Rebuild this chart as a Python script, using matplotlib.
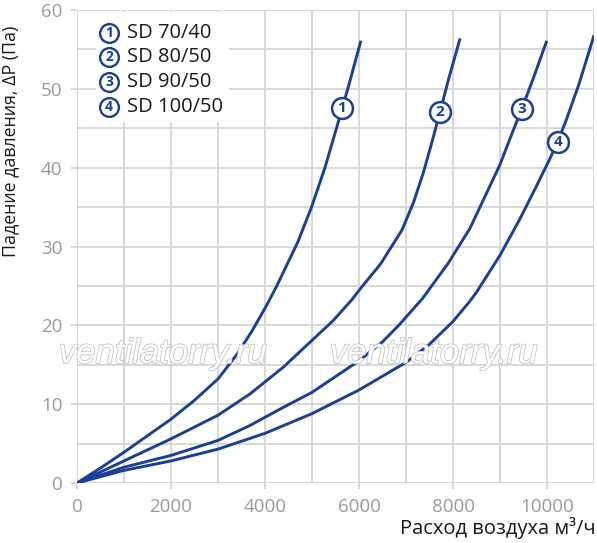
import numpy as np
import matplotlib
matplotlib.use("Agg")
import matplotlib.pyplot as plt
import matplotlib.patheffects as pe

plt.rcParams['font.family'] = ['Open Sans', 'DejaVu Sans']

# расход воздуха, м3/ч  и  падение давления, Па
flow_1 = [0, 500, 1000, 1500, 2000, 2500, 3000, 3400, 3725, 4040, 4250, 4700, 4990, 5280, 5520, 5770, 6040]
dp_1 = [0, 1.9, 3.9, 6.0, 8.1, 10.5, 13.2, 16.3, 19.3, 22.6, 25.0, 30.6, 35.0, 40.1, 45.0, 50.2, 56.1]

flow_2 = [0, 500, 1000, 2000, 3000, 3680, 4390, 5000, 5450, 5840, 6035, 6460, 6915, 7160, 7370, 7550, 7725, 7900, 8150]
dp_2 = [0, 1.4, 2.8, 5.6, 8.6, 11.3, 14.7, 18.1, 20.6, 23.2, 24.7, 27.8, 32.1, 35.6, 39.4, 43.2, 47.1, 51.1, 56.4]

flow_3 = [0, 500, 1000, 2000, 3000, 3680, 4390, 5000, 6000, 6500, 6860, 7350, 7900, 8360, 8700, 9000, 9200, 9465, 9700, 9995]
dp_3 = [0, 1.0, 2.0, 3.5, 5.4, 7.3, 9.6, 11.5, 15.5, 17.9, 20.1, 23.4, 27.9, 32.3, 36.6, 40.4, 43.5, 47.5, 51.2, 56.1]

flow_4 = [0, 500, 1000, 2000, 3000, 4000, 5000, 6000, 7000, 7500, 8000, 8350, 8500, 9000, 9415, 9770, 10050, 10227, 10400, 10680, 11000]
dp_4 = [0, 0.8, 1.6, 2.8, 4.3, 6.3, 8.8, 11.8, 15.3, 17.6, 20.5, 23.0, 24.2, 28.9, 33.4, 37.6, 41.0, 43.3, 45.9, 50.6, 56.8]

names = ["SD 70/40", "SD 80/50", "SD 90/50", "SD 100/50"]
# где стоят кружки с номерами на кривых
label_flow = [5630, 7725, 9465, 10227]
label_dp = [47.6, 47.1, 47.5, 43.2]

blue = "#1b3f92"
grid_c = "#d2d2d2"
tick_c = "#9a9a9a"

fig = plt.figure(figsize=(5.97, 5.43), dpi=100)
ax = fig.add_axes([0.129, 0.1105, 0.866, 0.871])

ax.set_xlim(0, 11000)
ax.set_ylim(0, 60)
ax.set_xticks(np.arange(0, 11001, 2000))
ax.set_xticks(np.arange(0, 11001, 1000), minor=True)
ax.set_yticks(np.arange(0, 61, 10))
ax.set_yticks(np.arange(0, 61, 5), minor=True)
ax.grid(True, which='both', color=grid_c, lw=1.2)
ax.set_axisbelow(True)
for s in ax.spines.values():
    s.set_visible(False)
ax.tick_params(which='major', length=4.5, color=grid_c, width=1.2, labelsize=13.5,
               labelcolor=tick_c, pad=6)
ax.tick_params(which='minor', length=0)

flows = [flow_1, flow_2, flow_3, flow_4]
dps = [dp_1, dp_2, dp_3, dp_4]
for fx, dy in zip(flows, dps):
    ax.plot(fx, dy, color=blue, lw=2.1, solid_capstyle='butt', solid_joinstyle='round', zorder=3)

# номера на кривых
for i in range(4):
    ax.plot(label_flow[i], label_dp[i], 'o', ms=15, mfc='white', mec=blue, mew=1.8, zorder=4)
    ax.text(label_flow[i], label_dp[i], str(i + 1), color=blue, fontsize=11,
            fontweight='bold', ha='center', va='center', zorder=5)

# легенда
fig.patches.append(plt.Rectangle((96 / 597, 1 - 122 / 543), 133 / 597, 110 / 543,
                                 transform=fig.transFigure, fc='white', ec='none', zorder=2))
leg_y = [33, 57, 82, 107]
for i in range(4):
    yy = 1 - leg_y[i] / 543
    fig.lines.append(plt.Line2D([109 / 597], [yy], marker='o', ms=13.5, mfc='white', mec=blue,
                                mew=1.7, transform=fig.transFigure, zorder=4))
    fig.text(109 / 597, yy, str(i + 1), color=blue, fontsize=10, fontweight='bold',
             ha='center', va='center', zorder=5)
    fig.text(127 / 597, yy, names[i], color='#1a1a1a', fontsize=14.5, ha='left', va='center',
             zorder=5)

# водяной знак
for xw in [163, 434]:
    fig.text(xw / 597, 1 - 363 / 543, "ventilatorry.ru", fontsize=25, style='italic',
             family='Liberation Sans', color='white', ha='center', va='baseline', zorder=3,
             path_effects=[pe.withStroke(linewidth=1.2, foreground='#c4c4c4')])

ax.set_ylabel("Падение давления, ΔP (Па)", fontsize=12.8, color='#1a1a1a')
ax.yaxis.set_label_coords(-0.112, 0.723)
fig.text(0.998, 1 - 528 / 543, "Расход воздуха м³/ч", fontsize=14.5, color='#1a1a1a',
         ha='right', va='center')

fig.savefig("out.png", dpi=100)
